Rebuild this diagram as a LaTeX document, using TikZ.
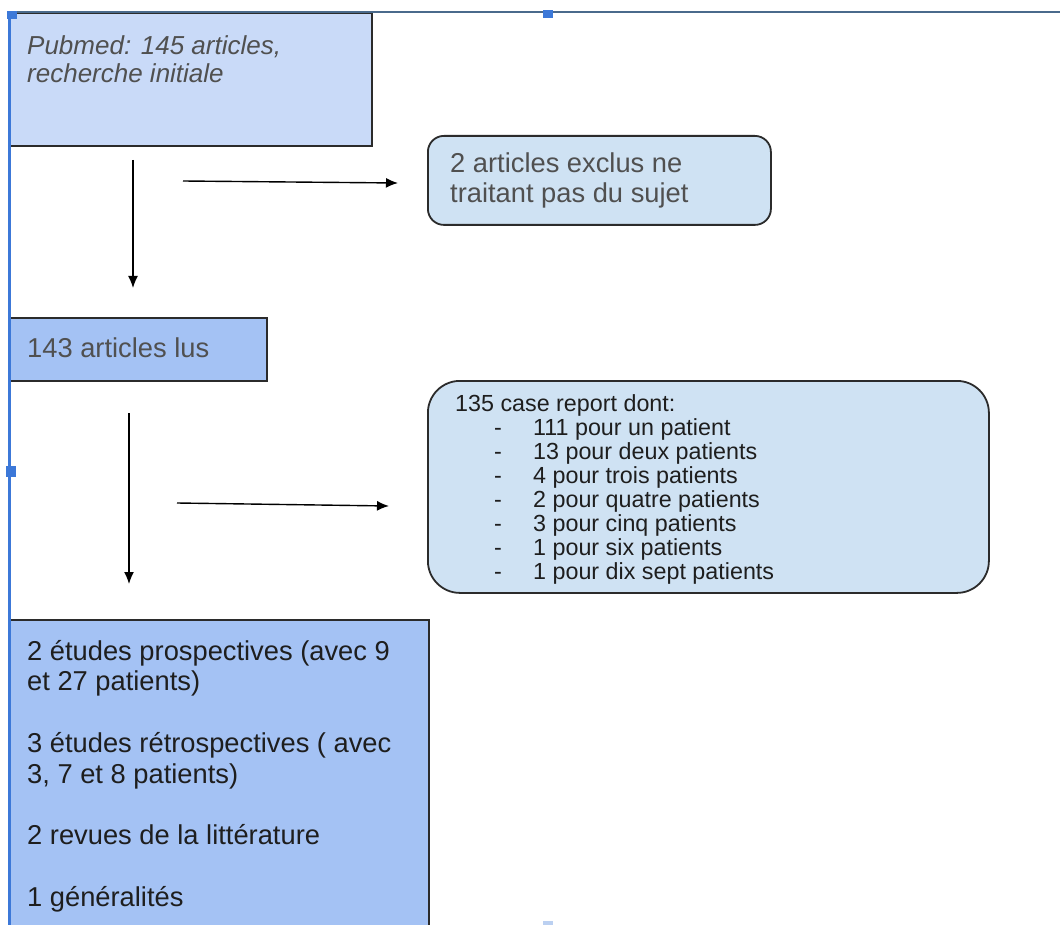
\documentclass[tikz,border=0pt]{standalone}
\usepackage{fontspec}
\setmainfont{Liberation Sans}
\usetikzlibrary{arrows.meta}
\definecolor{boxA}{HTML}{C9DAF8}
\definecolor{boxB}{HTML}{A4C2F4}
\definecolor{boxC}{HTML}{CFE2F3}
\definecolor{edgecol}{HTML}{2B2B2B}
\definecolor{selblue}{HTML}{3C78D8}
\definecolor{topline}{HTML}{4A6A8C}
\definecolor{txtgray}{HTML}{505050}
\definecolor{txtdark}{HTML}{1E1E1E}
\begin{document}
\begin{tikzpicture}[x=1pt,y=-1pt,
  sqbox/.style={draw=edgecol,line width=1.8pt,anchor=north west,inner sep=0pt},
  rbox/.style={sqbox,rounded corners=16pt},
  lbl/.style={anchor=base west,inner sep=0pt},
  big/.style={lbl,font=\fontsize{27.3}{31}\selectfont},
  small/.style={lbl,font=\fontsize{23.3}{24}\selectfont,text=txtdark},
  flow/.style={draw=black,line width=1.4pt,-{Latex[length=12pt,width=10pt]}},
  handle/.style={fill=selblue,inner sep=0pt,minimum width=10pt,minimum height=8pt}]
\useasboundingbox (0,0) rectangle (1060,925);
\fill[white] (0,0) rectangle (1060,925);

% boxes
\node[sqbox,fill=boxA,minimum width=363pt,minimum height=133pt] (b1) at (8,12) {};
\node[rbox,fill=boxC,minimum width=343pt,minimum height=89pt] (b2) at (427,135) {};
\node[sqbox,fill=boxB,minimum width=258pt,minimum height=63pt] (b3) at (8,317) {};
\node[rbox,fill=boxC,rounded corners=32pt,minimum width=561pt,minimum height=212pt] (b4) at (427,380) {};
\node[sqbox,fill=boxB,minimum width=420pt,minimum height=330pt] (b5) at (8,619) {};

% texts
\node[lbl,font=\fontsize{26}{28}\selectfont\itshape,text=txtgray] (t1a) at (27,55) {Pubmed: 145 articles,};
\node[lbl,font=\fontsize{26}{28}\selectfont\itshape,text=txtgray] (t1b) at (27,83) {recherche initiale};
\node[big,text=txtgray] (t2a) at (450,173) {2 articles exclus ne};
\node[big,text=txtgray] (t2b) at (450,203) {traitant pas du sujet};
\node[big,text=txtgray] (t3) at (27,357) {143 articles lus};

\node[small] (t4) at (455,411) {135 case report dont:};
\foreach \txt [count=\k from 0] in {111 pour un patient,13 pour deux patients,4 pour trois patients,2 pour quatre patients,3 pour cinq patients,1 pour six patients,1 pour dix sept patients}{
  \node[small] (d\k) at (494,435+24*\k) {-};
  \node[small] (i\k) at (533,435+24*\k) {\txt};
}

\node[big,text=txtdark] (t5a) at (27,660) {2 études prospectives (avec 9};
\node[big,text=txtdark] (t5b) at (27,690.8) {et 27 patients)};
\node[big,text=txtdark] (t5c) at (27,752.4) {3 études rétrospectives ( avec};
\node[big,text=txtdark] (t5d) at (27,783.2) {3, 7 et 8 patients)};
\node[big,text=txtdark] (t5e) at (27,844.8) {2 revues de la littérature};
\node[big,text=txtdark] (t5f) at (27,906.4) {1 généralités};

% arrows
\coordinate (a1s) at (133,160); \coordinate (a1e) at (133,288);
\coordinate (a2s) at (183,181); \coordinate (a2e) at (398,183);
\coordinate (a3s) at (129,413); \coordinate (a3e) at (129,584);
\coordinate (a4s) at (177,503); \coordinate (a4e) at (389,506);
\draw[flow] (a1s) -- (a1e);
\draw[flow] (a2s) -- (a2e);
\draw[flow] (a3s) -- (a3e);
\draw[flow] (a4s) -- (a4e);

% selection frame
\coordinate (tl) at (8,12); \coordinate (tr) at (1060,12);
\coordinate (lt) at (9,12); \coordinate (lb) at (9,925);
\draw[topline,line width=1.5pt] (tl) -- (tr);
\draw[selblue,line width=3pt] (lt) -- (lb);
\node[handle] (h1) at (12,15) {};
\node[handle] (h2) at (548,14) {};
\node[handle,minimum height=11pt] (h3) at (11,471) {};
\node[handle,fill=selblue!35,minimum height=4pt] (h4) at (548,923) {};
\end{tikzpicture}
\end{document}
